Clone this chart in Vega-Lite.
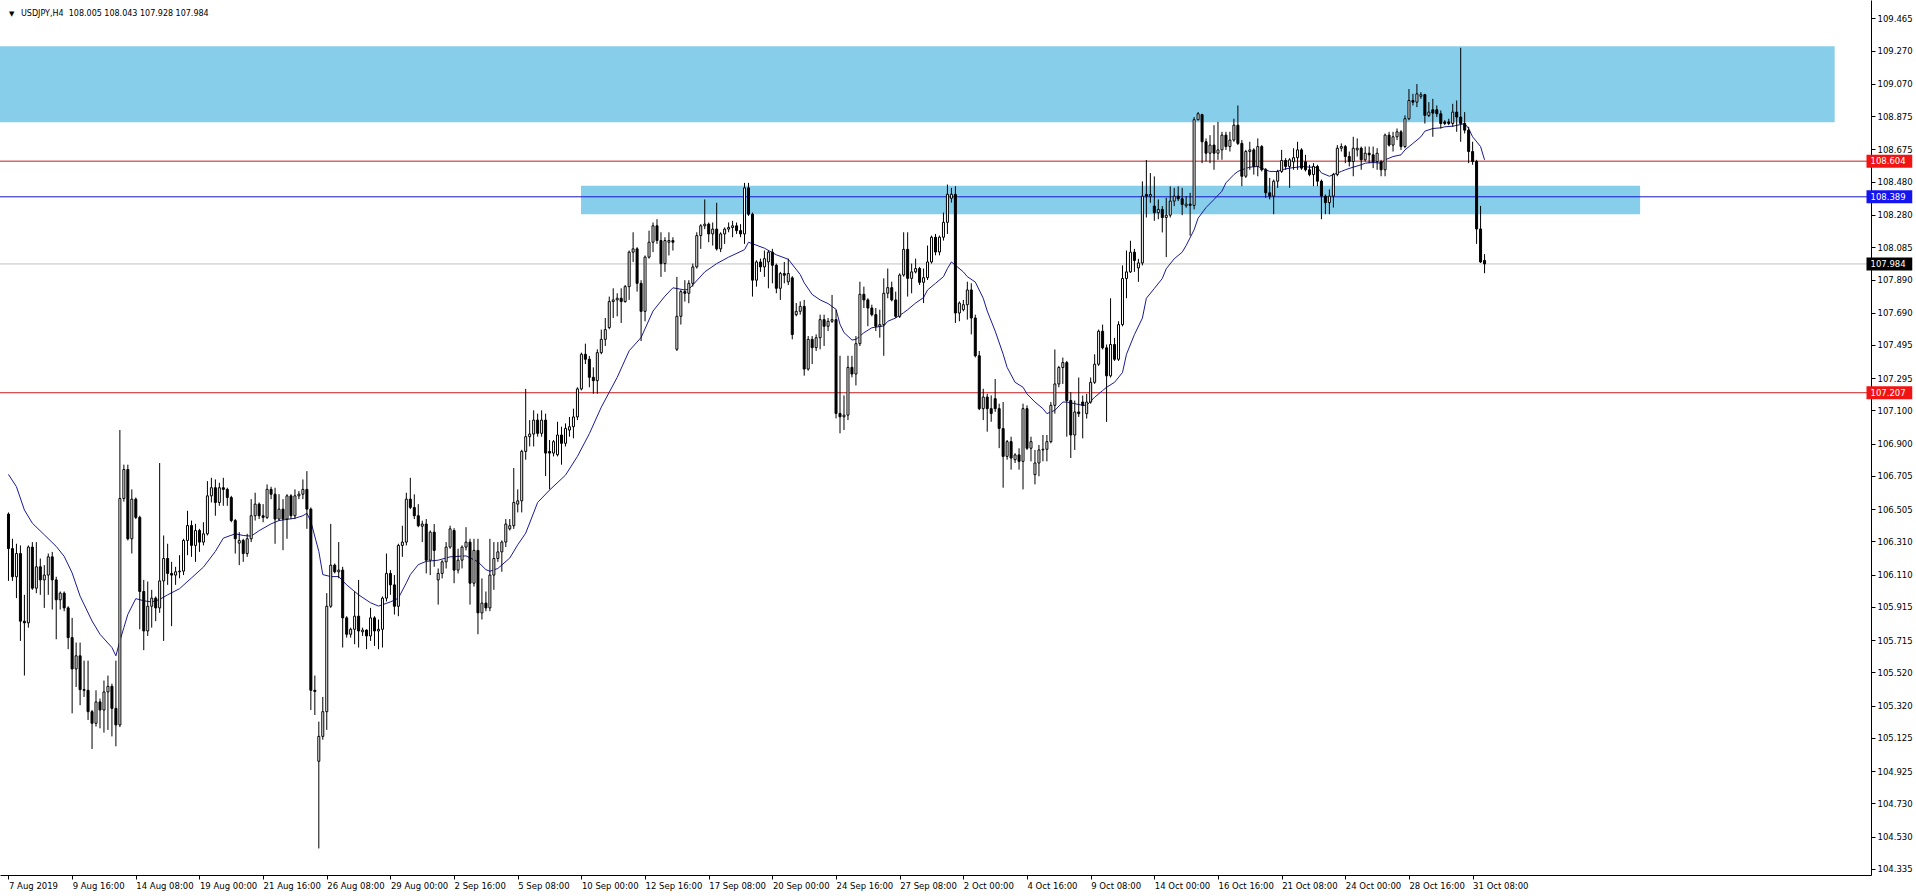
{
"$schema":"https://vega.github.io/schema/vega-lite/v6.json",
"width":1871,"height":875,
"autosize":{"type":"none"},
"padding":{"left":0,"top":0,"right":45,"bottom":21},
"background":"white",
"config":{"view":{"stroke":null},"font":"DejaVu Sans","axis":{"labelFont":"DejaVu Sans","labelFontSize":8.5,"labelColor":"black","domainColor":"black","tickColor":"black","grid":false,"domainWidth":1,"tickWidth":1,"labelOverlap":false,"labelFlush":false,"labelBound":false}},
"datasets":{
"candles":[
{"i":0,"o":106.475,"h":106.485,"l":106.072,"c":106.267},{"i":1,"o":106.267,"h":106.326,"l":106.072,"c":106.097},{"i":2,"o":106.097,"h":106.296,"l":105.968,"c":106.237},{"i":3,"o":106.237,"h":106.286,"l":105.71,"c":105.829},{"i":4,"o":105.829,"h":105.988,"l":105.501,"c":105.819},{"i":5,"o":105.819,"h":106.286,"l":105.79,"c":106.276},{"i":6,"o":106.276,"h":106.306,"l":106.018,"c":106.028},{"i":7,"o":106.028,"h":106.306,"l":105.998,"c":106.157},{"i":8,"o":106.157,"h":106.207,"l":105.988,"c":106.078},{"i":9,"o":106.078,"h":106.167,"l":105.909,"c":106.107},
{"i":10,"o":106.107,"h":106.237,"l":105.988,"c":106.217},{"i":11,"o":106.217,"h":106.247,"l":105.899,"c":106.078},{"i":12,"o":106.078,"h":106.097,"l":105.72,"c":105.958},{"i":13,"o":105.958,"h":106.008,"l":105.899,"c":105.998},{"i":14,"o":105.998,"h":106.008,"l":105.889,"c":105.909},{"i":15,"o":105.909,"h":105.919,"l":105.66,"c":105.73},{"i":16,"o":105.73,"h":105.849,"l":105.273,"c":105.541},{"i":17,"o":105.541,"h":105.7,"l":105.432,"c":105.62},{"i":18,"o":105.62,"h":105.7,"l":105.322,"c":105.416},{"i":19,"o":105.416,"h":105.591,"l":105.372,"c":105.412},
{"i":20,"o":105.412,"h":105.591,"l":105.233,"c":105.283},{"i":21,"o":105.283,"h":105.293,"l":105.058,"c":105.213},{"i":22,"o":105.213,"h":105.412,"l":105.193,"c":105.342},{"i":23,"o":105.342,"h":105.362,"l":105.183,"c":105.293},{"i":24,"o":105.293,"h":105.471,"l":105.157,"c":105.402},{"i":25,"o":105.402,"h":105.501,"l":105.173,"c":105.436},{"i":26,"o":105.436,"h":105.452,"l":105.134,"c":105.303},{"i":27,"o":105.303,"h":105.591,"l":105.074,"c":105.203},{"i":28,"o":105.203,"h":106.982,"l":105.19,"c":106.569},{"i":29,"o":106.569,"h":106.773,"l":106.55,"c":106.744},
{"i":30,"o":106.744,"h":106.773,"l":106.316,"c":106.326},{"i":31,"o":106.326,"h":106.624,"l":106.237,"c":106.565},{"i":32,"o":106.565,"h":106.575,"l":106.445,"c":106.455},{"i":33,"o":106.455,"h":106.465,"l":105.78,"c":106.008},{"i":34,"o":106.008,"h":106.078,"l":105.654,"c":105.77},{"i":35,"o":105.77,"h":106.068,"l":105.74,"c":105.919},{"i":36,"o":105.919,"h":106.018,"l":105.79,"c":105.968},{"i":37,"o":105.968,"h":105.978,"l":105.829,"c":105.909},{"i":38,"o":105.909,"h":106.783,"l":105.879,"c":106.072},{"i":39,"o":106.072,"h":106.346,"l":105.71,"c":106.207},
{"i":40,"o":106.207,"h":106.296,"l":106.048,"c":106.117},{"i":41,"o":106.117,"h":106.187,"l":105.799,"c":106.107},{"i":42,"o":106.107,"h":106.157,"l":106.048,"c":106.127},{"i":43,"o":106.127,"h":106.227,"l":106.088,"c":106.131},{"i":44,"o":106.131,"h":106.326,"l":106.107,"c":106.316},{"i":45,"o":106.316,"h":106.495,"l":106.227,"c":106.406},{"i":46,"o":106.406,"h":106.436,"l":106.217,"c":106.286},{"i":47,"o":106.286,"h":106.416,"l":106.187,"c":106.376},{"i":48,"o":106.376,"h":106.386,"l":106.247,"c":106.306},{"i":49,"o":106.306,"h":106.426,"l":106.286,"c":106.356},
{"i":50,"o":106.356,"h":106.674,"l":106.346,"c":106.585},{"i":51,"o":106.585,"h":106.694,"l":106.545,"c":106.634},{"i":52,"o":106.634,"h":106.684,"l":106.465,"c":106.545},{"i":53,"o":106.545,"h":106.664,"l":106.525,"c":106.634},{"i":54,"o":106.634,"h":106.694,"l":106.525,"c":106.624},{"i":55,"o":106.624,"h":106.634,"l":106.525,"c":106.575},{"i":56,"o":106.575,"h":106.585,"l":106.426,"c":106.436},{"i":57,"o":106.436,"h":106.446,"l":106.237,"c":106.326},{"i":58,"o":106.3,"h":106.366,"l":106.167,"c":106.316},{"i":59,"o":106.316,"h":106.326,"l":106.187,"c":106.237},
{"i":60,"o":106.237,"h":106.356,"l":106.217,"c":106.326},{"i":61,"o":106.326,"h":106.565,"l":106.306,"c":106.465},{"i":62,"o":106.465,"h":106.604,"l":106.436,"c":106.535},{"i":63,"o":106.535,"h":106.545,"l":106.445,"c":106.465},{"i":64,"o":106.465,"h":106.535,"l":106.426,"c":106.455},{"i":65,"o":106.455,"h":106.654,"l":106.445,"c":106.624},{"i":66,"o":106.624,"h":106.64,"l":106.565,"c":106.595},{"i":67,"o":106.595,"h":106.634,"l":106.296,"c":106.445},{"i":68,"o":106.445,"h":106.595,"l":106.436,"c":106.505},{"i":69,"o":106.505,"h":106.565,"l":106.257,"c":106.445},
{"i":70,"o":106.445,"h":106.595,"l":106.326,"c":106.585},{"i":71,"o":106.585,"h":106.595,"l":106.445,"c":106.465},{"i":72,"o":106.465,"h":106.624,"l":106.445,"c":106.585},{"i":73,"o":106.585,"h":106.614,"l":106.565,"c":106.595},{"i":74,"o":106.595,"h":106.684,"l":106.565,"c":106.624},{"i":75,"o":106.624,"h":106.734,"l":106.386,"c":106.505},{"i":76,"o":106.505,"h":106.515,"l":105.293,"c":105.412},{"i":77,"o":105.412,"h":105.501,"l":105.263,"c":105.405},{"i":78,"o":104.984,"h":105.223,"l":104.458,"c":105.134},{"i":79,"o":105.134,"h":105.372,"l":105.114,"c":105.283},
{"i":80,"o":105.283,"h":105.998,"l":105.173,"c":105.919},{"i":81,"o":105.919,"h":106.416,"l":105.909,"c":106.167},{"i":82,"o":106.167,"h":106.177,"l":106.117,"c":106.127},{"i":83,"o":106.127,"h":106.306,"l":106.088,"c":106.137},{"i":84,"o":106.137,"h":106.157,"l":105.67,"c":105.849},{"i":85,"o":105.849,"h":105.859,"l":105.73,"c":105.75},{"i":86,"o":105.75,"h":105.79,"l":105.73,"c":105.78},{"i":87,"o":105.78,"h":106.008,"l":105.69,"c":105.859},{"i":88,"o":105.859,"h":106.078,"l":105.67,"c":105.77},{"i":89,"o":105.765,"h":105.79,"l":105.74,"c":105.775},
{"i":90,"o":105.775,"h":105.78,"l":105.66,"c":105.74},{"i":91,"o":105.74,"h":105.909,"l":105.71,"c":105.849},{"i":92,"o":105.849,"h":105.859,"l":105.68,"c":105.77},{"i":93,"o":105.77,"h":105.839,"l":105.66,"c":105.78},{"i":94,"o":105.78,"h":105.978,"l":105.67,"c":105.968},{"i":95,"o":105.968,"h":106.237,"l":105.948,"c":106.117},{"i":96,"o":106.117,"h":106.137,"l":105.988,"c":106.048},{"i":97,"o":106.048,"h":106.107,"l":105.869,"c":105.919},{"i":98,"o":105.919,"h":106.296,"l":105.859,"c":106.286},{"i":99,"o":106.286,"h":106.405,"l":106.217,"c":106.306},
{"i":100,"o":106.306,"h":106.604,"l":106.286,"c":106.565},{"i":101,"o":106.565,"h":106.694,"l":106.505,"c":106.515},{"i":102,"o":106.515,"h":106.594,"l":106.445,"c":106.465},{"i":103,"o":106.465,"h":106.535,"l":106.396,"c":106.405},{"i":104,"o":106.402,"h":106.435,"l":106.306,"c":106.415},{"i":105,"o":106.415,"h":106.445,"l":106.117,"c":106.197},{"i":106,"o":106.197,"h":106.376,"l":106.107,"c":106.366},{"i":107,"o":106.366,"h":106.415,"l":106.157,"c":106.256},{"i":108,"o":106.078,"h":106.147,"l":105.929,"c":106.117},{"i":109,"o":106.117,"h":106.197,"l":106.087,"c":106.187},
{"i":110,"o":106.187,"h":106.306,"l":106.147,"c":106.276},{"i":111,"o":106.276,"h":106.405,"l":106.266,"c":106.386},{"i":112,"o":106.376,"h":106.39,"l":106.058,"c":106.137},{"i":113,"o":106.137,"h":106.266,"l":106.117,"c":106.197},{"i":114,"o":106.197,"h":106.286,"l":106.147,"c":106.276},{"i":115,"o":106.276,"h":106.396,"l":106.256,"c":106.306},{"i":116,"o":106.306,"h":106.326,"l":105.929,"c":106.058},{"i":117,"o":106.058,"h":106.326,"l":106.038,"c":106.256},{"i":118,"o":106.256,"h":106.326,"l":105.75,"c":105.879},{"i":119,"o":105.879,"h":106.087,"l":105.839,"c":105.938},
{"i":120,"o":105.938,"h":106.008,"l":105.889,"c":105.909},{"i":121,"o":105.909,"h":106.326,"l":105.889,"c":106.107},{"i":122,"o":106.107,"h":106.306,"l":106.018,"c":106.207},{"i":123,"o":106.207,"h":106.306,"l":106.187,"c":106.247},{"i":124,"o":106.247,"h":106.316,"l":106.127,"c":106.306},{"i":125,"o":106.306,"h":106.445,"l":106.276,"c":106.415},{"i":126,"o":106.386,"h":106.445,"l":106.376,"c":106.405},{"i":127,"o":106.405,"h":106.753,"l":106.386,"c":106.545},{"i":128,"o":106.535,"h":106.624,"l":106.485,"c":106.555},{"i":129,"o":106.555,"h":106.863,"l":106.485,"c":106.853},
{"i":130,"o":106.853,"h":107.23,"l":106.803,"c":106.942},{"i":131,"o":106.942,"h":107.042,"l":106.883,"c":106.958},{"i":132,"o":106.958,"h":107.101,"l":106.883,"c":107.042},{"i":133,"o":107.042,"h":107.081,"l":106.942,"c":106.962},{"i":134,"o":106.962,"h":107.101,"l":106.942,"c":107.042},{"i":135,"o":107.042,"h":107.081,"l":106.704,"c":106.843},{"i":136,"o":106.853,"h":106.922,"l":106.624,"c":106.843},{"i":137,"o":106.843,"h":106.922,"l":106.823,"c":106.912},{"i":138,"o":106.833,"h":107.032,"l":106.823,"c":106.952},{"i":139,"o":106.952,"h":107.002,"l":106.773,"c":106.902},
{"i":140,"o":106.902,"h":107.022,"l":106.883,"c":106.992},{"i":141,"o":106.982,"h":107.061,"l":106.942,"c":107.002},{"i":142,"o":107.002,"h":107.111,"l":106.932,"c":107.061},{"i":143,"o":107.061,"h":107.24,"l":107.042,"c":107.23},{"i":144,"o":107.23,"h":107.449,"l":107.221,"c":107.439},{"i":145,"o":107.439,"h":107.503,"l":107.38,"c":107.409},{"i":146,"o":107.409,"h":107.429,"l":107.24,"c":107.3},{"i":147,"o":107.3,"h":107.36,"l":107.201,"c":107.28},{"i":148,"o":107.28,"h":107.469,"l":107.201,"c":107.449},{"i":149,"o":107.449,"h":107.588,"l":107.439,"c":107.529},
{"i":150,"o":107.529,"h":107.658,"l":107.489,"c":107.588},{"i":151,"o":107.6,"h":107.787,"l":107.59,"c":107.757},{"i":152,"o":107.757,"h":107.837,"l":107.658,"c":107.767},{"i":153,"o":107.767,"h":107.807,"l":107.668,"c":107.777},{"i":154,"o":107.777,"h":107.837,"l":107.628,"c":107.757},{"i":155,"o":107.757,"h":107.857,"l":107.75,"c":107.847},{"i":156,"o":107.847,"h":108.065,"l":107.767,"c":108.055},{"i":157,"o":108.055,"h":108.175,"l":107.996,"c":108.075},{"i":158,"o":108.075,"h":108.085,"l":107.817,"c":107.867},{"i":159,"o":107.867,"h":107.886,"l":107.519,"c":107.698},
{"i":160,"o":107.698,"h":108.035,"l":107.638,"c":108.025},{"i":161,"o":108.025,"h":108.185,"l":108.016,"c":108.115},{"i":162,"o":108.115,"h":108.234,"l":108.055,"c":108.214},{"i":163,"o":108.214,"h":108.254,"l":108.105,"c":108.125},{"i":164,"o":108.125,"h":108.175,"l":107.906,"c":107.986},{"i":165,"o":107.986,"h":108.145,"l":107.936,"c":108.125},{"i":166,"o":108.115,"h":108.175,"l":108.035,"c":108.125},{"i":167,"o":108.125,"h":108.145,"l":108.065,"c":108.115},{"i":168,"o":107.469,"h":107.906,"l":107.459,"c":107.668},{"i":169,"o":107.668,"h":107.827,"l":107.618,"c":107.817},
{"i":170,"o":107.817,"h":107.886,"l":107.757,"c":107.807},{"i":171,"o":107.807,"h":107.886,"l":107.747,"c":107.867},{"i":172,"o":107.867,"h":107.986,"l":107.847,"c":107.966},{"i":173,"o":107.966,"h":108.175,"l":107.956,"c":108.155},{"i":174,"o":108.155,"h":108.224,"l":108.075,"c":108.214},{"i":175,"o":108.214,"h":108.373,"l":108.194,"c":108.224},{"i":176,"o":108.224,"h":108.234,"l":108.115,"c":108.165},{"i":177,"o":108.165,"h":108.234,"l":108.095,"c":108.194},{"i":178,"o":108.194,"h":108.353,"l":108.065,"c":108.075},{"i":179,"o":108.075,"h":108.175,"l":108.055,"c":108.165},
{"i":180,"o":108.165,"h":108.204,"l":108.105,"c":108.194},{"i":181,"o":108.194,"h":108.234,"l":108.175,"c":108.204},{"i":182,"o":108.204,"h":108.244,"l":108.145,"c":108.214},{"i":183,"o":108.214,"h":108.234,"l":108.165,"c":108.185},{"i":184,"o":108.185,"h":108.224,"l":108.145,"c":108.165},{"i":185,"o":108.165,"h":108.473,"l":108.105,"c":108.443},{"i":186,"o":108.443,"h":108.473,"l":108.274,"c":108.284},{"i":187,"o":108.284,"h":108.294,"l":107.787,"c":107.886},{"i":188,"o":107.886,"h":108.006,"l":107.847,"c":107.996},{"i":189,"o":107.996,"h":108.016,"l":107.936,"c":107.966},
{"i":190,"o":107.966,"h":108.065,"l":107.906,"c":108.016},{"i":191,"o":107.996,"h":108.065,"l":107.837,"c":108.055},{"i":192,"o":108.055,"h":108.075,"l":107.867,"c":107.976},{"i":193,"o":107.976,"h":107.986,"l":107.807,"c":107.837},{"i":194,"o":107.837,"h":107.936,"l":107.767,"c":107.926},{"i":195,"o":107.926,"h":107.996,"l":107.867,"c":107.916},{"i":196,"o":107.876,"h":108.016,"l":107.857,"c":107.926},{"i":197,"o":107.9,"h":107.91,"l":107.529,"c":107.558},{"i":198,"o":107.678,"h":107.748,"l":107.668,"c":107.698},{"i":199,"o":107.698,"h":107.758,"l":107.678,"c":107.728},
{"i":200,"o":107.728,"h":107.767,"l":107.31,"c":107.35},{"i":201,"o":107.35,"h":107.549,"l":107.34,"c":107.529},{"i":202,"o":107.529,"h":107.549,"l":107.38,"c":107.479},{"i":203,"o":107.479,"h":107.559,"l":107.459,"c":107.539},{"i":204,"o":107.539,"h":107.678,"l":107.469,"c":107.648},{"i":205,"o":107.648,"h":107.678,"l":107.489,"c":107.608},{"i":206,"o":107.608,"h":107.658,"l":107.579,"c":107.638},{"i":207,"o":107.638,"h":107.797,"l":107.628,"c":107.648},{"i":208,"o":107.648,"h":107.708,"l":107.052,"c":107.082},{"i":209,"o":107.082,"h":107.43,"l":106.962,"c":107.062},
{"i":210,"o":107.062,"h":107.191,"l":106.982,"c":107.072},{"i":211,"o":107.072,"h":107.43,"l":107.042,"c":107.36},{"i":212,"o":107.36,"h":107.43,"l":107.3,"c":107.32},{"i":213,"o":107.32,"h":107.549,"l":107.251,"c":107.503},{"i":214,"o":107.503,"h":107.877,"l":107.489,"c":107.801},{"i":215,"o":107.801,"h":107.847,"l":107.718,"c":107.767},{"i":216,"o":107.767,"h":107.777,"l":107.608,"c":107.718},{"i":217,"o":107.718,"h":107.738,"l":107.668,"c":107.678},{"i":218,"o":107.678,"h":107.718,"l":107.579,"c":107.608},{"i":219,"o":107.608,"h":107.708,"l":107.539,"c":107.618},
{"i":220,"o":107.618,"h":107.897,"l":107.43,"c":107.807},{"i":221,"o":107.807,"h":107.956,"l":107.777,"c":107.841},{"i":222,"o":107.841,"h":107.877,"l":107.758,"c":107.767},{"i":223,"o":107.767,"h":107.817,"l":107.658,"c":107.668},{"i":224,"o":107.668,"h":107.927,"l":107.658,"c":107.917},{"i":225,"o":107.917,"h":108.175,"l":107.907,"c":108.072},{"i":226,"o":108.072,"h":108.175,"l":107.787,"c":107.897},{"i":227,"o":107.897,"h":107.986,"l":107.807,"c":107.936},{"i":228,"o":107.936,"h":108.016,"l":107.927,"c":107.956},{"i":229,"o":107.956,"h":107.966,"l":107.857,"c":107.873},
{"i":230,"o":107.873,"h":107.956,"l":107.748,"c":107.901},{"i":231,"o":107.901,"h":108.095,"l":107.887,"c":107.996},{"i":232,"o":107.996,"h":108.155,"l":107.986,"c":108.145},{"i":233,"o":108.145,"h":108.165,"l":108.036,"c":108.056},{"i":234,"o":108.056,"h":108.155,"l":108.036,"c":108.145},{"i":235,"o":108.145,"h":108.294,"l":108.125,"c":108.235},{"i":236,"o":108.235,"h":108.463,"l":108.165,"c":108.404},{"i":237,"o":108.38,"h":108.443,"l":108.354,"c":108.404},{"i":238,"o":108.404,"h":108.453,"l":107.628,"c":107.688},{"i":239,"o":107.688,"h":107.758,"l":107.638,"c":107.748},
{"i":240,"o":107.708,"h":107.767,"l":107.698,"c":107.738},{"i":241,"o":107.738,"h":107.877,"l":107.648,"c":107.827},{"i":242,"o":107.827,"h":107.867,"l":107.559,"c":107.658},{"i":243,"o":107.658,"h":107.678,"l":107.42,"c":107.43},{"i":244,"o":107.43,"h":107.459,"l":107.102,"c":107.111},{"i":245,"o":107.111,"h":107.231,"l":107.042,"c":107.181},{"i":246,"o":107.181,"h":107.201,"l":106.972,"c":107.111},{"i":247,"o":107.111,"h":107.191,"l":107.032,"c":107.082},{"i":248,"o":107.171,"h":107.29,"l":107.092,"c":107.111},{"i":249,"o":107.111,"h":107.141,"l":106.873,"c":106.992},
{"i":250,"o":106.991,"h":107.151,"l":106.634,"c":106.823},{"i":251,"o":106.823,"h":106.922,"l":106.803,"c":106.912},{"i":252,"o":106.912,"h":106.942,"l":106.743,"c":106.813},{"i":253,"o":106.803,"h":106.842,"l":106.783,"c":106.832},{"i":254,"o":106.832,"h":106.872,"l":106.743,"c":106.793},{"i":255,"o":106.793,"h":107.141,"l":106.624,"c":107.111},{"i":256,"o":107.111,"h":107.131,"l":106.862,"c":106.872},{"i":257,"o":106.872,"h":106.942,"l":106.793,"c":106.912},{"i":258,"o":106.713,"h":106.862,"l":106.654,"c":106.783},{"i":259,"o":106.783,"h":106.892,"l":106.703,"c":106.862},
{"i":260,"o":106.862,"h":106.952,"l":106.793,"c":106.866},{"i":261,"o":106.866,"h":106.952,"l":106.793,"c":106.912},{"i":262,"o":106.912,"h":107.151,"l":106.902,"c":107.131},{"i":263,"o":107.131,"h":107.468,"l":107.081,"c":107.26},{"i":264,"o":107.26,"h":107.369,"l":107.24,"c":107.359},{"i":265,"o":107.359,"h":107.419,"l":107.26,"c":107.389},{"i":266,"o":107.389,"h":107.399,"l":106.942,"c":107.16},{"i":267,"o":107.16,"h":107.21,"l":106.813,"c":106.952},{"i":268,"o":106.952,"h":107.16,"l":106.862,"c":107.091},{"i":269,"o":107.091,"h":107.299,"l":107.061,"c":107.081},
{"i":270,"o":107.151,"h":107.19,"l":106.932,"c":107.131},{"i":271,"o":107.081,"h":107.2,"l":107.051,"c":107.151},{"i":272,"o":107.151,"h":107.299,"l":107.141,"c":107.27},{"i":273,"o":107.27,"h":107.439,"l":107.26,"c":107.379},{"i":274,"o":107.379,"h":107.588,"l":107.369,"c":107.578},{"i":275,"o":107.578,"h":107.618,"l":107.468,"c":107.478},{"i":276,"o":107.478,"h":107.498,"l":107.031,"c":107.309},{"i":277,"o":107.309,"h":107.777,"l":107.299,"c":107.498},{"i":278,"o":107.498,"h":107.538,"l":107.399,"c":107.409},{"i":279,"o":107.409,"h":107.638,"l":107.399,"c":107.618},
{"i":280,"o":107.618,"h":107.975,"l":107.608,"c":107.896},{"i":281,"o":107.896,"h":108.065,"l":107.777,"c":107.936},{"i":282,"o":107.936,"h":108.124,"l":107.93,"c":108.055},{"i":283,"o":108.055,"h":108.075,"l":107.936,"c":108.005},{"i":284,"o":107.96,"h":108.015,"l":107.876,"c":107.99},{"i":285,"o":107.99,"h":108.482,"l":107.975,"c":108.393},{"i":286,"o":108.403,"h":108.611,"l":108.264,"c":108.393},{"i":287,"o":108.393,"h":108.532,"l":108.353,"c":108.403},{"i":288,"o":108.333,"h":108.512,"l":108.244,"c":108.293},{"i":289,"o":108.293,"h":108.373,"l":108.254,"c":108.313},
{"i":290,"o":108.313,"h":108.333,"l":108.174,"c":108.264},{"i":291,"o":108.264,"h":108.383,"l":108.025,"c":108.278},{"i":292,"o":108.278,"h":108.452,"l":108.264,"c":108.363},{"i":293,"o":108.363,"h":108.443,"l":108.333,"c":108.393},{"i":294,"o":108.393,"h":108.452,"l":108.363,"c":108.377},{"i":295,"o":108.377,"h":108.443,"l":108.278,"c":108.343},{"i":296,"o":108.335,"h":108.393,"l":108.323,"c":108.345},{"i":297,"o":108.345,"h":108.413,"l":108.154,"c":108.337},{"i":298,"o":108.337,"h":108.87,"l":108.313,"c":108.854},{"i":299,"o":108.854,"h":108.9,"l":108.85,"c":108.89},
{"i":300,"o":108.885,"h":108.89,"l":108.592,"c":108.721},{"i":301,"o":108.721,"h":108.741,"l":108.602,"c":108.652},{"i":302,"o":108.652,"h":108.761,"l":108.592,"c":108.701},{"i":303,"o":108.701,"h":108.821,"l":108.552,"c":108.652},{"i":304,"o":108.652,"h":108.841,"l":108.612,"c":108.672},{"i":305,"o":108.672,"h":108.781,"l":108.612,"c":108.761},{"i":306,"o":108.761,"h":108.781,"l":108.672,"c":108.692},{"i":307,"o":108.692,"h":108.781,"l":108.662,"c":108.731},{"i":308,"o":108.731,"h":108.86,"l":108.721,"c":108.821},{"i":309,"o":108.821,"h":108.94,"l":108.701,"c":108.711},
{"i":310,"o":108.711,"h":108.731,"l":108.453,"c":108.513},{"i":311,"o":108.513,"h":108.672,"l":108.503,"c":108.662},{"i":312,"o":108.662,"h":108.721,"l":108.552,"c":108.672},{"i":313,"o":108.672,"h":108.682,"l":108.523,"c":108.572},{"i":314,"o":108.572,"h":108.741,"l":108.513,"c":108.692},{"i":315,"o":108.692,"h":108.701,"l":108.542,"c":108.552},{"i":316,"o":108.552,"h":108.562,"l":108.383,"c":108.413},{"i":317,"o":108.413,"h":108.503,"l":108.373,"c":108.393},{"i":318,"o":108.393,"h":108.493,"l":108.284,"c":108.483},{"i":319,"o":108.483,"h":108.552,"l":108.443,"c":108.542},
{"i":320,"o":108.542,"h":108.672,"l":108.533,"c":108.608},{"i":321,"o":108.608,"h":108.622,"l":108.552,"c":108.572},{"i":322,"o":108.572,"h":108.622,"l":108.443,"c":108.612},{"i":323,"o":108.6,"h":108.682,"l":108.552,"c":108.625},{"i":324,"o":108.625,"h":108.721,"l":108.552,"c":108.672},{"i":325,"o":108.672,"h":108.682,"l":108.552,"c":108.562},{"i":326,"o":108.6,"h":108.642,"l":108.542,"c":108.552},{"i":327,"o":108.552,"h":108.582,"l":108.513,"c":108.523},{"i":328,"o":108.523,"h":108.592,"l":108.453,"c":108.572},{"i":329,"o":108.572,"h":108.582,"l":108.453,"c":108.483},
{"i":330,"o":108.483,"h":108.493,"l":108.254,"c":108.393},{"i":331,"o":108.393,"h":108.403,"l":108.284,"c":108.354},{"i":332,"o":108.354,"h":108.433,"l":108.284,"c":108.393},{"i":333,"o":108.393,"h":108.533,"l":108.324,"c":108.523},{"i":334,"o":108.523,"h":108.701,"l":108.513,"c":108.682},{"i":335,"o":108.682,"h":108.711,"l":108.662,"c":108.692},{"i":336,"o":108.692,"h":108.702,"l":108.592,"c":108.632},{"i":337,"o":108.632,"h":108.662,"l":108.572,"c":108.602},{"i":338,"o":108.602,"h":108.751,"l":108.513,"c":108.682},{"i":339,"o":108.672,"h":108.741,"l":108.632,"c":108.682},
{"i":340,"o":108.682,"h":108.692,"l":108.552,"c":108.612},{"i":341,"o":108.612,"h":108.692,"l":108.602,"c":108.652},{"i":342,"o":108.652,"h":108.692,"l":108.592,"c":108.642},{"i":343,"o":108.642,"h":108.692,"l":108.562,"c":108.602},{"i":344,"o":108.602,"h":108.682,"l":108.552,"c":108.652},{"i":345,"o":108.6,"h":108.612,"l":108.513,"c":108.552},{"i":346,"o":108.552,"h":108.771,"l":108.513,"c":108.761},{"i":347,"o":108.761,"h":108.781,"l":108.692,"c":108.701},{"i":348,"o":108.701,"h":108.781,"l":108.662,"c":108.751},{"i":349,"o":108.751,"h":108.801,"l":108.731,"c":108.781},
{"i":350,"o":108.781,"h":108.791,"l":108.672,"c":108.692},{"i":351,"o":108.692,"h":108.88,"l":108.682,"c":108.86},{"i":352,"o":108.86,"h":109.039,"l":108.851,"c":108.97},{"i":353,"o":108.97,"h":109.01,"l":108.94,"c":108.96},{"i":354,"o":108.96,"h":109.069,"l":108.93,"c":109.01},{"i":355,"o":108.995,"h":109.02,"l":108.98,"c":109.005},{"i":356,"o":109.005,"h":109.01,"l":108.831,"c":108.88},{"i":357,"o":108.88,"h":108.96,"l":108.87,"c":108.9},{"i":358,"o":108.914,"h":108.98,"l":108.751,"c":108.894},{"i":359,"o":108.914,"h":108.94,"l":108.87,"c":108.89},
{"i":360,"o":108.89,"h":108.91,"l":108.801,"c":108.831},{"i":361,"o":108.841,"h":108.851,"l":108.821,"c":108.831},{"i":362,"o":108.841,"h":108.86,"l":108.821,"c":108.831},{"i":363,"o":108.831,"h":108.95,"l":108.811,"c":108.9},{"i":364,"o":108.9,"h":108.97,"l":108.781,"c":108.87},{"i":365,"o":108.87,"h":109.288,"l":108.721,"c":108.831},{"i":366,"o":108.831,"h":108.9,"l":108.771,"c":108.791},{"i":367,"o":108.791,"h":108.811,"l":108.592,"c":108.662},{"i":368,"o":108.662,"h":108.721,"l":108.582,"c":108.602},{"i":369,"o":108.602,"h":108.612,"l":108.105,"c":108.195},
{"i":370,"o":108.195,"h":108.334,"l":107.99,"c":107.996},{"i":371,"o":108.005,"h":108.043,"l":107.928,"c":107.984}
],
"ma":[
{"i":0,"v":106.714},{"i":2,"v":106.64},{"i":4,"v":106.5},{"i":6,"v":106.42},{"i":9,"v":106.35},{"i":12,"v":106.28},{"i":14,"v":106.22},{"i":16,"v":106.12},{"i":18,"v":105.98},{"i":21,"v":105.83},{"i":23,"v":105.75},{"i":26,"v":105.67},{"i":27,"v":105.62},{"i":28,"v":105.71},{"i":29,"v":105.79},{"i":30,"v":105.87},{"i":32,"v":105.965},{"i":34,"v":105.952},{"i":36,"v":105.945},{"i":38,"v":105.96},{"i":40,"v":105.988},{"i":43,"v":106.025},{"i":46,"v":106.09},{"i":49,"v":106.155},{"i":52,"v":106.25},{"i":54,"v":106.33},{"i":57,"v":106.356},{"i":59,"v":106.346},{"i":61,"v":106.342},{"i":63,"v":106.375},{"i":66,"v":106.416},{"i":68,"v":106.436},{"i":72,"v":106.45},{"i":74,"v":106.465},{"i":75,"v":106.48},{"i":76,"v":106.43},{"i":78,"v":106.25},{"i":79,"v":106.11},{"i":81,"v":106.098},{"i":83,"v":106.098},{"i":85,"v":106.048},{"i":88,"v":105.988},{"i":91,"v":105.94},{"i":93,"v":105.92},{"i":96,"v":105.945},{"i":98,"v":105.968},{"i":100,"v":106.06},
{"i":101,"v":106.11},{"i":103,"v":106.17},{"i":105,"v":106.19},{"i":108,"v":106.197},{"i":111,"v":106.217},{"i":115,"v":106.223},{"i":118,"v":106.187},{"i":120,"v":106.14},{"i":121,"v":106.13},{"i":123,"v":106.147},{"i":126,"v":106.21},{"i":128,"v":106.29},{"i":130,"v":106.36},{"i":133,"v":106.545},{"i":136,"v":106.62},{"i":140,"v":106.71},{"i":143,"v":106.823},{"i":146,"v":106.96},{"i":149,"v":107.12},
{"i":151,"v":107.21},{"i":153,"v":107.3},{"i":156,"v":107.46},{"i":159,"v":107.54},{"i":162,"v":107.7},{"i":165,"v":107.79},{"i":167,"v":107.84},{"i":170,"v":107.827},{"i":171,"v":107.831},{"i":175,"v":107.936},{"i":178,"v":107.986},{"i":181,"v":108.025},{"i":185,"v":108.07},{"i":186,"v":108.115},{"i":190,"v":108.079},{"i":193,"v":108.039},{"i":196,"v":108.012},{"i":199,"v":107.92},
{"i":200,"v":107.87},{"i":202,"v":107.8},{"i":204,"v":107.767},{"i":206,"v":107.745},{"i":208,"v":107.71},{"i":209,"v":107.62},{"i":210,"v":107.57},{"i":212,"v":107.525},{"i":213,"v":107.529},{"i":215,"v":107.569},{"i":217,"v":107.599},{"i":220,"v":107.61},{"i":221,"v":107.638},{"i":223,"v":107.658},{"i":225,"v":107.69},{"i":226,"v":107.708},{"i":228,"v":107.748},{"i":230,"v":107.781},{"i":231,"v":107.827},{"i":233,"v":107.867},{"i":235,"v":107.907},{"i":236,"v":107.956},{"i":237,"v":107.996},{"i":238,"v":107.976},{"i":240,"v":107.936},{"i":241,"v":107.907},{"i":243,"v":107.875},{"i":245,"v":107.777},{"i":246,"v":107.7},{"i":248,"v":107.579},
{"i":250,"v":107.44},{"i":251,"v":107.36},{"i":253,"v":107.27},{"i":255,"v":107.24},{"i":256,"v":107.2},{"i":258,"v":107.151},{"i":260,"v":107.111},{"i":261,"v":107.081},{"i":263,"v":107.101},{"i":265,"v":107.151},{"i":266,"v":107.151},{"i":268,"v":107.141},{"i":270,"v":107.131},{"i":271,"v":107.131},{"i":273,"v":107.18},{"i":275,"v":107.22},{"i":276,"v":107.24},{"i":278,"v":107.27},{"i":280,"v":107.329},{"i":281,"v":107.439},{"i":283,"v":107.558},{"i":285,"v":107.657},{"i":286,"v":107.777},{"i":288,"v":107.836},{"i":290,"v":107.896},{"i":291,"v":107.955},{"i":293,"v":108.015},{"i":295,"v":108.055},{"i":296,"v":108.095},{"i":298,"v":108.19},{"i":299,"v":108.26},
{"i":301,"v":108.324},{"i":303,"v":108.373},{"i":305,"v":108.423},{"i":306,"v":108.473},{"i":308,"v":108.523},{"i":309,"v":108.542},{"i":310,"v":108.552},{"i":312,"v":108.568},{"i":314,"v":108.572},{"i":315,"v":108.562},{"i":317,"v":108.542},{"i":319,"v":108.542},{"i":320,"v":108.552},{"i":322,"v":108.562},{"i":324,"v":108.568},{"i":325,"v":108.572},{"i":327,"v":108.568},{"i":329,"v":108.566},{"i":330,"v":108.533},{"i":332,"v":108.513},{"i":333,"v":108.523},{"i":335,"v":108.542},{"i":336,"v":108.552},{"i":338,"v":108.568},{"i":340,"v":108.582},{"i":341,"v":108.592},{"i":343,"v":108.596},{"i":345,"v":108.592},{"i":346,"v":108.612},{"i":348,"v":108.632},{"i":350,"v":108.642},{"i":351,"v":108.672},{"i":353,"v":108.711},{"i":355,"v":108.751},{"i":356,"v":108.785},{"i":358,"v":108.801},{"i":360,"v":108.805},{"i":361,"v":108.811},{"i":363,"v":108.815},{"i":365,"v":108.825},{"i":366,"v":108.831},{"i":367,"v":108.801},{"i":368,"v":108.751},{"i":370,"v":108.692},{"i":371,"v":108.612}
],
"zones":[{"x1":-5,"x2":459,"lo":108.838,"hi":109.297},{"x1":143.9,"x2":410.1,"lo":108.283,"hi":108.456}],
"levels":[{"price":108.604,"kind":"resistance"},{"price":108.389,"kind":"pivot"},{"price":107.984,"kind":"bid"},{"price":107.207,"kind":"support"}],
"head":[{"t":"USDJPY,H4\u00a0\u00a0108.005 108.043 107.928 107.984"}]
},
"layer":[
{"data":{"name":"zones"},"mark":{"type":"rect","color":"#87ceeb","clip":true},
 "encoding":{
  "x":{"field":"x1","type":"quantitative","title":null,"scale":{"domain":[-0.875,466.875],"nice":false,"zero":false},
   "axis":{"orient":"bottom","values":[0,16,32,48,64,80,96,112,128,144,160,176,192,208,224,240,256,272,288,304,320,336,352,368],
    "labelExpr":"['7 Aug 2019','9 Aug 16:00','14 Aug 08:00','19 Aug 00:00','21 Aug 16:00','26 Aug 08:00','29 Aug 00:00','2 Sep 16:00','5 Sep 08:00','10 Sep 00:00','12 Sep 16:00','17 Sep 08:00','20 Sep 00:00','24 Sep 16:00','27 Sep 08:00','2 Oct 00:00','4 Oct 16:00','9 Oct 08:00','14 Oct 00:00','16 Oct 16:00','21 Oct 08:00','24 Oct 00:00','28 Oct 16:00','31 Oct 08:00'][round(datum.value/16)]",
    "labelAlign":"left","labelBaseline":"top","labelPadding":2,"labelDx":0,"tickSize":4,"labelFlush":false,"labelOverlap":false,"labelBound":false}},
  "x2":{"field":"x2"},
  "y":{"field":"lo","type":"quantitative","title":null,"scale":{"domain":[104.328,109.546],"nice":false,"zero":false},
   "axis":{"orient":"right","tickCount":60,"values":[109.465,109.27,109.07,108.875,108.675,108.48,108.28,108.085,107.89,107.69,107.495,107.295,107.1,106.9,106.705,106.505,106.31,106.11,105.915,105.715,105.52,105.32,105.125,104.925,104.73,104.53,104.335],
    "format":".3f","tickSize":4,"labelPadding":2,"labelAlign":"left","labelBaseline":"middle","labelOverlap":false,"labelFlush":false,"labelBound":false}},
  "y2":{"field":"hi"}}},
{"data":{"name":"levels"},"mark":{"type":"rule","strokeWidth":1},
 "encoding":{"y":{"field":"price","type":"quantitative","title":null},
  "stroke":{"field":"kind","type":"nominal","legend":null,"scale":{"domain":["resistance","pivot","bid","support"],"range":["#c81e1e","#1414c8","#c0c0c0","#c81e1e"]}}}},
{"data":{"name":"ma"},"mark":{"type":"line","color":"#1a1a96","strokeWidth":1,"clip":true},
 "encoding":{"x":{"field":"i","type":"quantitative","title":null},"y":{"field":"v","type":"quantitative","title":null}}},
{"data":{"name":"candles"},"mark":{"type":"rule","color":"black","strokeWidth":1},
 "encoding":{"x":{"field":"i","type":"quantitative","title":null},"y":{"field":"l","type":"quantitative","title":null},"y2":{"field":"h"}}},
{"data":{"name":"candles"},"mark":{"type":"bar","size":2,"stroke":"black","strokeWidth":1,"orient":"vertical"},
 "encoding":{"x":{"field":"i","type":"quantitative","title":null},"y":{"field":"o","type":"quantitative","title":null},"y2":{"field":"c"},
  "fill":{"condition":{"test":"datum.c >= datum.o","value":"white"},"value":"black"}}},
{"data":{"name":"levels"},"mark":{"type":"bar","size":13,"orient":"horizontal"},
 "encoding":{"x":{"datum":467.0,"type":"quantitative"},"x2":{"datum":478.5},"y":{"field":"price","type":"quantitative","title":null},
  "fill":{"field":"kind","type":"nominal","legend":null,"scale":{"domain":["resistance","pivot","bid","support"],"range":["#f01414","#1414f0","#000000","#f01414"]}}}},
{"data":{"name":"levels"},"mark":{"type":"text","align":"left","baseline":"middle","dx":4,"fontSize":8.5,"color":"white","font":"DejaVu Sans"},
 "encoding":{"x":{"datum":467.0,"type":"quantitative"},"y":{"field":"price","type":"quantitative","title":null},"text":{"field":"price","type":"quantitative","format":".3f"}}},
{"data":{"name":"head"},"mark":{"type":"text","align":"left","baseline":"middle","dx":16,"dy":9,"fontSize":8,"color":"black","font":"DejaVu Sans"},
 "encoding":{"x":{"datum":-0.875,"type":"quantitative"},"y":{"datum":109.546,"type":"quantitative"},"text":{"field":"t"}}},
{"data":{"name":"head"},"mark":{"type":"text","align":"left","baseline":"middle","dx":4,"dy":9,"fontSize":7,"color":"black","font":"DejaVu Sans","text":"▼"},
 "encoding":{"x":{"datum":-0.875,"type":"quantitative"},"y":{"datum":109.546,"type":"quantitative"}}},
{"mark":{"type":"rule","color":"black","strokeWidth":1},
 "encoding":{"x":{"datum":-0.5,"type":"quantitative"}}}
]
}
